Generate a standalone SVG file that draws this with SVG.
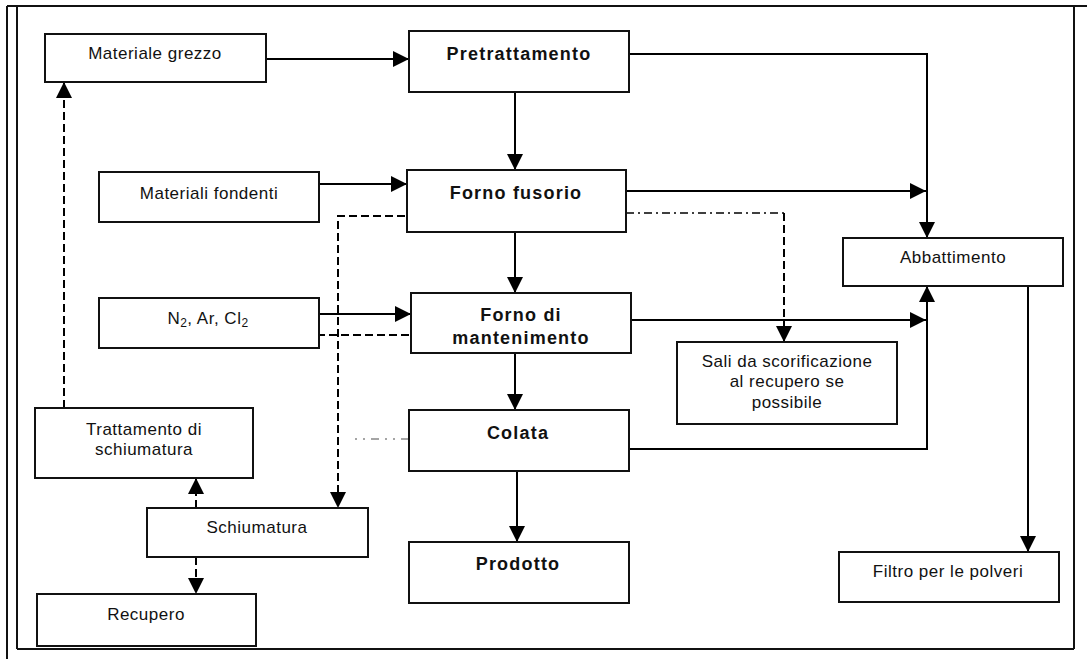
<svg xmlns="http://www.w3.org/2000/svg" width="1087" height="659" viewBox="0 0 1087 659">
  <defs>
    <marker id="arrow" viewBox="0 0 16 16" refX="16" refY="8" markerWidth="16" markerHeight="16" markerUnits="userSpaceOnUse" orient="auto">
      <path d="M0,0 L16,8 L0,16 z" fill="#000"/>
    </marker>
    <style>
      .box { fill: #fff; stroke: #111; stroke-width: 2; }
      .t { font-family: "Liberation Sans", Arial, sans-serif; font-size: 17px; letter-spacing: 0.5px; fill: #111; text-anchor: middle; }
      .b { font-family: "Liberation Sans", Arial, sans-serif; font-size: 18px; font-weight: bold; letter-spacing: 1.2px; fill: #111; text-anchor: middle; }
      .sub { font-size: 12px; }
      .frame { stroke: #111; stroke-width: 2; fill: none; }
      .flow { stroke: #000; stroke-width: 2; fill: none; }
      .dash { stroke: #000; stroke-width: 2; fill: none; stroke-dasharray: 8 4; }
      .dashdot { stroke: #000; stroke-width: 1.5; fill: none; stroke-dasharray: 8 4 2 4; }
      .faint { stroke: #888; stroke-width: 1.5; fill: none; stroke-dasharray: 2 6 2 6 8 6; }
    </style>
  </defs>

  <rect x="0" y="0" width="1087" height="659" fill="#fff"/>

  <!-- page frame -->
  <g id="frame">
    <line class="frame" x1="7" y1="6" x2="1087" y2="6"/>
    <line class="frame" x1="7" y1="6" x2="7" y2="659" stroke-width="1.5"/>
    <line class="frame" x1="17" y1="6" x2="17" y2="649" stroke-width="1.5"/>
    <line class="frame" x1="1074" y1="6" x2="1074" y2="649" stroke-width="1.5"/>
    <line class="frame" x1="17" y1="649" x2="1074" y2="649" stroke-width="1.5"/>
  </g>

  <!-- connectors -->
  <g id="connectors">
    <path class="flow" d="M266,59 H409" marker-end="url(#arrow)"/>
    <path class="flow" d="M629,54 H927 V238" marker-end="url(#arrow)"/>
    <path class="flow" d="M515,92 V170" marker-end="url(#arrow)"/>
    <path class="flow" d="M319,184 H407" marker-end="url(#arrow)"/>
    <path class="flow" d="M626,191 H926" marker-end="url(#arrow)"/>
    <path class="flow" d="M515,232 V293" marker-end="url(#arrow)"/>
    <path class="flow" d="M317,314 H411" marker-end="url(#arrow)"/>
    <path class="flow" d="M631,320 H926" marker-end="url(#arrow)"/>
    <path class="flow" d="M515,353 V410" marker-end="url(#arrow)"/>
    <path class="flow" d="M517,471 V542" marker-end="url(#arrow)"/>
    <path class="flow" d="M629,449 H927 V286" marker-end="url(#arrow)"/>
    <path class="flow" d="M1028,286 V552" marker-end="url(#arrow)"/>

    <path class="dashdot" d="M626,213 H784"/>
    <path class="dash" d="M784,213 V342" marker-end="url(#arrow)"/>

    <path class="dash" d="M405,216 H338 V508" marker-end="url(#arrow)"/>
    <path class="dash" d="M317,335 H411"/>
    <path class="faint" d="M355,439 H409"/>

    <path class="dash" d="M64,408 V82" marker-end="url(#arrow)"/>
    <path class="dash" d="M196,508 V478" marker-end="url(#arrow)"/>
    <path class="dash" d="M196,557 V594" marker-end="url(#arrow)"/>
  </g>

  <!-- nodes -->
  <g id="materiale-grezzo">
    <rect class="box" x="45" y="34" width="221" height="48"/>
    <text class="t" x="155" y="59">Materiale grezzo</text>
  </g>
  <g id="pretrattamento">
    <rect class="box" x="409" y="31" width="220" height="61"/>
    <text class="b" x="519" y="60">Pretrattamento</text>
  </g>
  <g id="materiali-fondenti">
    <rect class="box" x="99" y="172" width="220" height="50"/>
    <text class="t" x="209" y="199">Materiali fondenti</text>
  </g>
  <g id="forno-fusorio">
    <rect class="box" x="407" y="170" width="219" height="62"/>
    <text class="b" x="516" y="199">Forno fusorio</text>
  </g>
  <g id="abbattimento">
    <rect class="box" x="843" y="238" width="220" height="48"/>
    <text class="t" x="953" y="263">Abbattimento</text>
  </g>
  <g id="gas">
    <rect class="box" x="99" y="298" width="220" height="50"/>
    <text class="t" x="208" y="324">N<tspan class="sub" dy="3">2</tspan><tspan dy="-3">, Ar, Cl</tspan><tspan class="sub" dy="3">2</tspan></text>
  </g>
  <g id="forno-mantenimento">
    <rect class="box" x="411" y="293" width="220" height="60"/>
    <text class="b" x="521" y="321">Forno di</text>
    <text class="b" x="521" y="344">mantenimento</text>
  </g>
  <g id="sali">
    <rect class="box" x="677" y="342" width="220" height="82"/>
    <text class="t" x="787" y="367">Sali da scorificazione</text>
    <text class="t" x="787" y="387">al recupero se</text>
    <text class="t" x="787" y="408">possibile</text>
  </g>
  <g id="trattamento-schiumatura">
    <rect class="box" x="35" y="408" width="218" height="70"/>
    <text class="t" x="144" y="435">Trattamento di</text>
    <text class="t" x="144" y="455">schiumatura</text>
  </g>
  <g id="colata">
    <rect class="box" x="409" y="410" width="220" height="61"/>
    <text class="b" x="518" y="439">Colata</text>
  </g>
  <g id="schiumatura">
    <rect class="box" x="147" y="508" width="221" height="49"/>
    <text class="t" x="257" y="533">Schiumatura</text>
  </g>
  <g id="prodotto">
    <rect class="box" x="409" y="542" width="220" height="61"/>
    <text class="b" x="518" y="570">Prodotto</text>
  </g>
  <g id="filtro">
    <rect class="box" x="839" y="552" width="220" height="50"/>
    <text class="t" x="948" y="577">Filtro per le polveri</text>
  </g>
  <g id="recupero">
    <rect class="box" x="37" y="594" width="219" height="52"/>
    <text class="t" x="146" y="620">Recupero</text>
  </g>
</svg>
